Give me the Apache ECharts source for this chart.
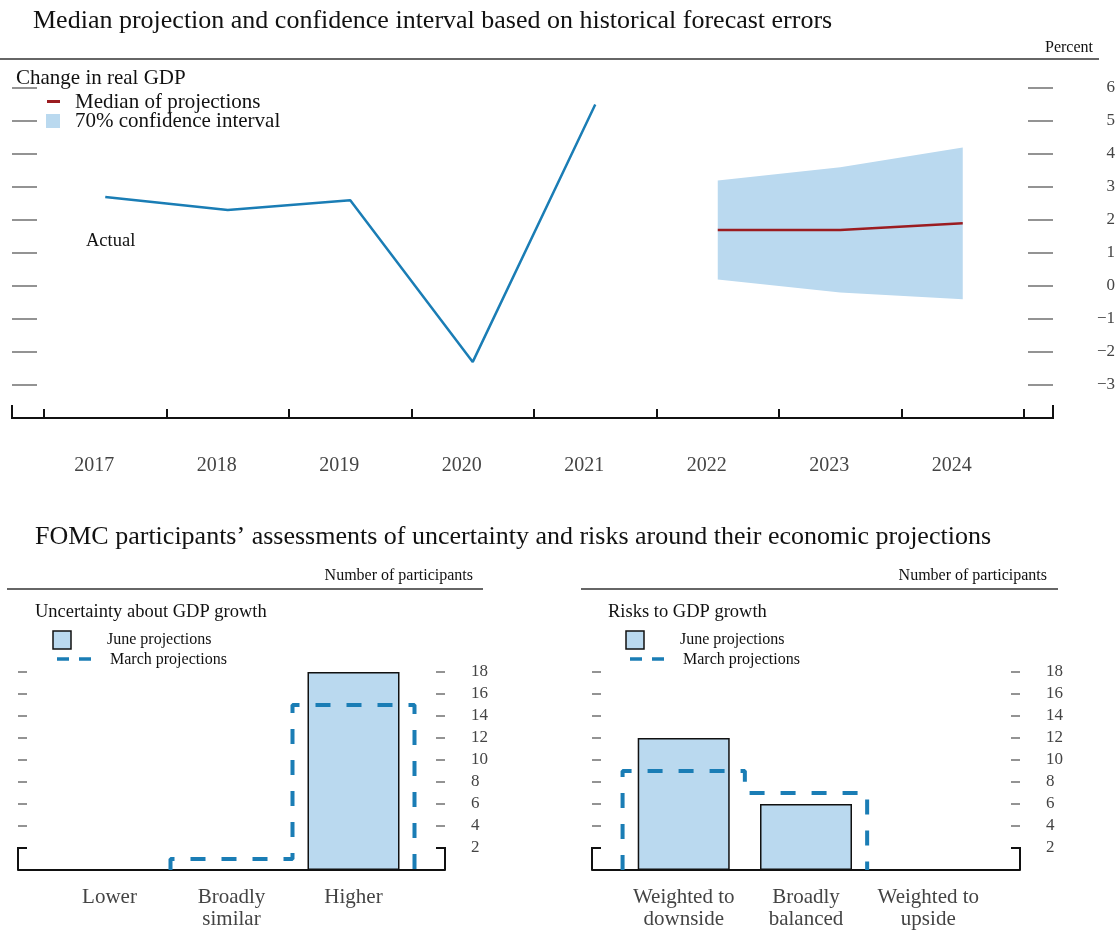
<!DOCTYPE html>
<html>
<head>
<meta charset="utf-8">
<script src="https://cdn.jsdelivr.net/npm/echarts@6/dist/echarts.min.js"></script>
<style>
html,body{margin:0;padding:0;background:#fff;}
#chart{width:1117px;height:930px;}
</style>
</head>
<body>
<div id="chart"></div>
<script>
// ---------- data ----------
var years = ['2017','2018','2019','2020','2021','2022','2023','2024'];
var actualGDP = [2.7, 2.3, 2.6, -2.3, 5.5, null, null, null];
var medianProj = [null, null, null, null, null, 1.7, 1.7, 1.9];
var ciLower = [null, null, null, null, null, 0.2, -0.2, -0.4];
var ciUpper = [null, null, null, null, null, 3.2, 3.6, 4.2];
var topTicks = [-3, -2, -1, 0, 1, 2, 3, 4, 5, 6];

var uncertCats = ['Lower', 'Broadly\nsimilar', 'Higher'];
var uncertJune = [0, 0, 18];
var uncertMarch = [0, 1, 15];

var riskCats = ['Weighted to\ndownside', 'Broadly\nbalanced', 'Weighted to\nupside'];
var riskJune = [12, 6, 0];
var riskMarch = [9, 7, 0];
var bottomTicks = [2, 4, 6, 8, 10, 12, 14, 16, 18];

// ---------- styling ----------
var SERIF = "'Liberation Serif','Times New Roman',serif";
var BLUE = '#1a7db5';
var LIGHT = '#bad9ef';
var RED = '#9b1c20';
var LABEL = '#444';
var TICK = '#707070';

function stepPoints(vals) {
  var pts = [];
  for (var i = 0; i < vals.length; i++) {
    var v = vals[i];
    if (v > 0) {
      if (i === 0 || !(vals[i - 1] > 0)) pts.push([i - 0.5, 0]);
      pts.push([i - 0.5, v]);
      pts.push([i + 0.5, v]);
      if (i === vals.length - 1 || !(vals[i + 1] > 0)) pts.push([i + 0.5, 0]);
    }
  }
  return pts;
}
function barPoints(vals) {
  var out = [];
  vals.forEach(function (v, i) { if (v > 0) out.push([i, v]); });
  return out;
}
var bandRange = ciUpper.map(function (u, i) { return u == null ? null : +(u - ciLower[i]).toFixed(2); });
function minusFmt(v) { return String(v).replace('-', '\u2212'); }

var chart = echarts.init(document.getElementById('chart'), null, {renderer: 'canvas'});

function bottomX(gi, cats) {
  return {
    gridIndex: gi, type: 'value', min: -0.75, max: 2.75,
    axisLine: {show: true, onZero: false, lineStyle: {color: '#111', width: 2}},
    axisTick: {show: false},
    splitLine: {show: false},
    axisLabel: {
      customValues: [0, 1, 2],
      formatter: function (v) { return cats[Math.round(v)]; },
      fontFamily: SERIF, fontSize: 21, lineHeight: 22, color: LABEL, margin: 16
    }
  };
}
function bottomY(gi, pos) {
  return {
    gridIndex: gi, type: 'value', position: pos, min: 0, max: 18, interval: 2,
    axisLine: {show: false, onZero: false},
    splitLine: {show: false},
    axisTick: {show: true, inside: true, length: 9, customValues: bottomTicks, lineStyle: {color: TICK, width: 1.5}},
    axisLabel: pos === 'right'
      ? {show: true, customValues: bottomTicks, margin: 26, align: 'left', fontFamily: SERIF, fontSize: 17, color: LABEL}
      : {show: false}
  };
}

var option = {
  animation: false,
  backgroundColor: '#fff',
  grid: [
    {left: 44, top: 55, width: 980, height: 363, outerBoundsMode: 'none', containLabel: false},
    {left: 18, top: 672, width: 427, height: 198, outerBoundsMode: 'none', containLabel: false},
    {left: 592, top: 672, width: 428, height: 198, outerBoundsMode: 'none', containLabel: false}
  ],
  xAxis: [
    {
      gridIndex: 0, type: 'category', data: years, boundaryGap: true,
      axisLine: {show: true, onZero: false, lineStyle: {color: '#111', width: 2}},
      axisTick: {show: true, inside: true, length: 9, lineStyle: {color: '#111', width: 2}},
      splitLine: {show: false},
      axisLabel: {fontFamily: SERIF, fontSize: 20, color: LABEL, margin: 38, padding: [0, 22, 0, 0]}
    },
    bottomX(1, uncertCats),
    bottomX(2, riskCats)
  ],
  yAxis: [
    {
      gridIndex: 0, type: 'value', position: 'left', offset: 32, min: -4, max: 7, interval: 1,
      axisLine: {show: false, onZero: false}, splitLine: {show: false},
      axisTick: {show: true, inside: true, length: 25, customValues: topTicks, lineStyle: {color: TICK, width: 1.5}},
      axisLabel: {show: false}
    },
    {
      gridIndex: 0, type: 'value', position: 'right', offset: 4, min: -4, max: 7, interval: 1,
      axisLine: {show: false, onZero: false}, splitLine: {show: false},
      axisTick: {show: true, inside: false, length: 25, customValues: topTicks, lineStyle: {color: TICK, width: 1.5}},
      axisLabel: {show: true, customValues: topTicks, align: 'right', margin: 87, formatter: minusFmt,
        fontFamily: SERIF, fontSize: 17, color: LABEL}
    },
    bottomY(1, 'left'),
    bottomY(1, 'right'),
    bottomY(2, 'left'),
    bottomY(2, 'right')
  ],
  series: [
    {name: 'ciLower', type: 'line', xAxisIndex: 0, yAxisIndex: 0, data: ciLower, stack: 'ci', stackStrategy: 'all',
      symbol: 'none', lineStyle: {width: 0, opacity: 0}, silent: true},
    {name: '70% confidence interval', type: 'line', xAxisIndex: 0, yAxisIndex: 0, data: bandRange, stack: 'ci', stackStrategy: 'all',
      symbol: 'none', lineStyle: {width: 0, opacity: 0}, areaStyle: {color: LIGHT, opacity: 1}, silent: true},
    {name: 'Median of projections', type: 'line', xAxisIndex: 0, yAxisIndex: 0, data: medianProj,
      symbol: 'none', lineStyle: {color: RED, width: 2.5}, z: 4},
    {name: 'Actual', type: 'line', xAxisIndex: 0, yAxisIndex: 0, data: actualGDP,
      symbol: 'none', lineStyle: {color: BLUE, width: 2.5}, z: 4},

    {name: 'June projections', type: 'bar', xAxisIndex: 1, yAxisIndex: 2, data: barPoints(uncertJune), barWidth: 92,
      itemStyle: {color: LIGHT, borderColor: '#111', borderWidth: 1.5}},
    {name: 'March projections', type: 'line', xAxisIndex: 1, yAxisIndex: 2, data: stepPoints(uncertMarch),
      symbol: 'none', lineStyle: {color: BLUE, width: 4, type: [15, 16]}, z: 5},

    {name: 'June projections', type: 'bar', xAxisIndex: 2, yAxisIndex: 4, data: barPoints(riskJune), barWidth: 92,
      itemStyle: {color: LIGHT, borderColor: '#111', borderWidth: 1.5}},
    {name: 'March projections', type: 'line', xAxisIndex: 2, yAxisIndex: 4, data: stepPoints(riskMarch),
      symbol: 'none', lineStyle: {color: BLUE, width: 4, type: [15, 16]}, z: 5}
  ]
};
chart.setOption(option);

function txt(text, x, y, size, opts) {
  opts = opts || {};
  return {type: 'text', x: x, y: y, z: 10, silent: true,
    style: {text: text, fontFamily: SERIF, fontSize: size, fill: opts.fill || '#111',
      align: opts.align || 'left', verticalAlign: 'middle'}};
}
function seg(x1, y1, x2, y2, color, w) {
  return {type: 'line', z: 10, silent: true, shape: {x1: x1, y1: y1, x2: x2, y2: y2}, style: {stroke: color, lineWidth: w}};
}
function poly(points, color, w) {
  return {type: 'polyline', z: 10, silent: true, shape: {points: points}, style: {stroke: color, lineWidth: w, fill: null}};
}

var g = [];
// top panel headings
g.push(txt('Median projection and confidence interval based on historical forecast errors', 33, 21, 26));
g.push(seg(0, 59, 1099, 59, '#666', 2));
g.push(txt('Percent', 1093, 48, 16, {align: 'right'}));
g.push(txt('Change in real GDP', 16, 78, 21));
g.push({type: 'rect', z: 10, shape: {x: 47, y: 100, width: 13, height: 3}, style: {fill: RED}});
g.push(txt('Median of projections', 75, 102, 21));
g.push({type: 'rect', z: 10, shape: {x: 46, y: 114, width: 14, height: 14}, style: {fill: LIGHT}});
g.push(txt('70% confidence interval', 75, 121, 21));
g.push(txt('Actual', 86, 241, 18.5));

// top axis extension with end ticks
var axY = chart.convertToPixel({gridIndex: 0}, [0, -4])[1];
g.push(seg(12, axY, 1053, axY, '#111', 2));
g.push(seg(12, axY - 13, 12, axY + 1, '#111', 2));
g.push(seg(1053, axY - 13, 1053, axY + 1, '#111', 2));

// bottom headings
g.push(txt('FOMC participants\u2019 assessments of uncertainty and risks around their economic projections', 35, 537, 26));
g.push(seg(7, 589, 483, 589, '#333', 1.5));
g.push(txt('Number of participants', 473, 576, 16, {align: 'right'}));
g.push(seg(581, 589, 1058, 589, '#333', 1.5));
g.push(txt('Number of participants', 1047, 576, 16, {align: 'right'}));

[[0, 'Uncertainty about GDP growth'], [573, 'Risks to GDP growth']].forEach(function (p) {
  var dx = p[0];
  g.push(txt(p[1], 35 + dx, 612, 18.5));
  g.push({type: 'rect', z: 10, shape: {x: 53 + dx, y: 631, width: 18, height: 18},
    style: {fill: LIGHT, stroke: '#111', lineWidth: 1.5}});
  g.push(txt('June projections', 107 + dx, 640, 16));
  g.push(seg(57 + dx, 659, 69 + dx, 659, BLUE, 3.5));
  g.push(seg(79 + dx, 659, 91 + dx, 659, BLUE, 3.5));
  g.push(txt('March projections', 110 + dx, 660, 16));
});

// bottom brackets at both ends of the value-2 tick
[1, 2].forEach(function (gi) {
  var pL0 = chart.convertToPixel({gridIndex: gi}, [-0.75, 0]);
  var pL2 = chart.convertToPixel({gridIndex: gi}, [-0.75, 2]);
  var pR0 = chart.convertToPixel({gridIndex: gi}, [2.75, 0]);
  var pR2 = chart.convertToPixel({gridIndex: gi}, [2.75, 2]);
  g.push(poly([[pL2[0] + 9, pL2[1]], [pL2[0], pL2[1]], [pL0[0], pL0[1]]], '#111', 2));
  g.push(poly([[pR2[0] - 9, pR2[1]], [pR2[0], pR2[1]], [pR0[0], pR0[1]]], '#111', 2));
});

chart.setOption({graphic: g});
</script>
</body>
</html>
